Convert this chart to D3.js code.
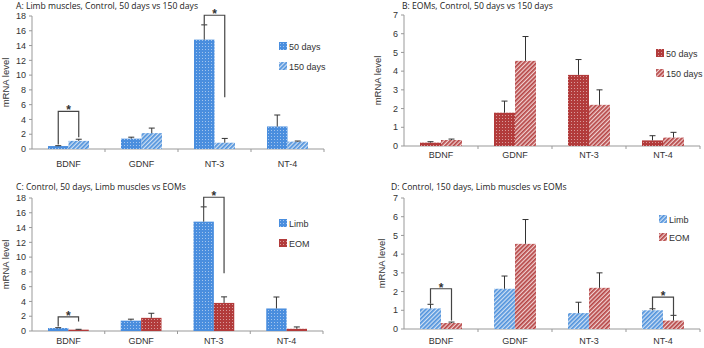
<!DOCTYPE html>
<html>
<head>
<meta charset="utf-8">
<script src="https://cdn.jsdelivr.net/npm/d3@7"></script>
<style>
  body { margin: 0; background: #fff; }
  svg { display: block; }
  .tick-label { font-family: "Liberation Sans", Arial, sans-serif; font-size: 9px; fill: #333; }
  .title { font-family: "Open Sans", "Noto Sans", sans-serif; font-size: 8.6px; fill: #222; }
  .legend { font-family: "Liberation Sans", Arial, sans-serif; font-size: 9px; fill: #333; }
</style>
</head>
<body>
<svg id="chart" width="704" height="348"></svg>
<script>
const genes = ["BDNF", "GDNF", "NT-3", "NT-4"];

// limb muscles
const limb50 = [0.4, 1.4, 14.8, 3.05];
const limb50Err = [0.05, 0.2, 2.0, 1.55];
const limb150 = [1.1, 2.15, 0.85, 1.0];
const limb150Err = [0.22, 0.68, 0.58, 0.08];

// EOMs
const eom50 = [0.18, 1.78, 3.8, 0.3];
const eom50Err = [0.05, 0.62, 0.82, 0.25];
const eom150 = [0.32, 4.55, 2.2, 0.45];
const eom150Err = [0.05, 1.3, 0.8, 0.28];

const ticksLimb = [0, 2, 4, 6, 8, 10, 12, 14, 16, 18];
const ticksEom = [0, 1, 2, 3, 4, 5, 6, 7];

// significance brackets: [gene index, bracket top, left leg foot, right leg foot]
const sigA = [[0, 5.1, 0.6, 1.6], [2, 18.1, 16.8, 7.0]];
const sigC = [[0, 1.9, 0.6, 1.3], [2, 18.1, 16.8, 7.8]];
const sigD = [[0, 2.15, 1.35, 0.45], [3, 1.7, 1.07, 0.72]];

const svg = d3.select("#chart");
const defs = svg.append("defs");

const BLUE = "#4a8ede", RED = "#b23b3b";

function dotPattern(id, color) {
  const p = defs.append("pattern").attr("id", id)
    .attr("patternUnits", "userSpaceOnUse").attr("width", 3).attr("height", 3);
  p.append("rect").attr("width", 3).attr("height", 3).attr("fill", color);
  p.append("circle").attr("cx", 1.5).attr("cy", 1.5).attr("r", 0.5).attr("fill", "#fff").attr("opacity", 0.65);
}
function hatchPattern(id, color, light) {
  const p = defs.append("pattern").attr("id", id)
    .attr("patternUnits", "userSpaceOnUse").attr("width", 3).attr("height", 3)
    .attr("patternTransform", "rotate(45)");
  p.append("rect").attr("width", 3).attr("height", 3).attr("fill", light);
  p.append("rect").attr("width", 1.7).attr("height", 3).attr("fill", color);
}
dotPattern("dotBlue", BLUE);
dotPattern("dotRed", RED);
hatchPattern("hatchBlue", "#4f92dc", "#cfe0f4");
hatchPattern("hatchRed", "#b54444", "#f0d0d0");

function panel(cfg) {
  const g = svg.append("g");
  const y = d3.scaleLinear().domain([0, cfg.ymax]).range([cfg.y0, cfg.ytop]);
  const x = d3.scaleBand().domain(genes).range([cfg.left, cfg.right]);
  const inner = d3.scaleBand().domain([0, 1]).range([16, x.bandwidth() - 16]);

  // title
  g.append("text").attr("class", "title")
    .attr("x", cfg.titleX).attr("y", cfg.titleY).text(cfg.title);

  // y axis
  g.append("line").attr("x1", cfg.left).attr("x2", cfg.left)
    .attr("y1", y(0)).attr("y2", y(cfg.ymax)).attr("stroke", "#999");
  cfg.ticks.forEach(t => {
    g.append("line").attr("x1", cfg.left - 3).attr("x2", cfg.left)
      .attr("y1", y(t)).attr("y2", y(t)).attr("stroke", "#999");
    g.append("text").attr("class", "tick-label")
      .attr("x", cfg.left - 6).attr("y", y(t) + 3.2)
      .attr("text-anchor", "end").text(t);
  });
  g.append("text").attr("class", "tick-label")
    .attr("transform", `translate(${cfg.ylabX},${(y(0) + y(cfg.ymax)) / 2}) rotate(-90)`)
    .attr("text-anchor", "middle").style("font-size", "9.5px").text("mRNA level");

  // x axis
  g.append("line").attr("x1", cfg.left).attr("x2", cfg.right)
    .attr("y1", y(0)).attr("y2", y(0)).attr("stroke", "#999");
  genes.forEach(d => {
    const xe = x(d) + x.bandwidth();
    g.append("line").attr("x1", xe).attr("x2", xe)
      .attr("y1", y(0)).attr("y2", y(0) + 3).attr("stroke", "#999");
    g.append("text").attr("class", "tick-label")
      .attr("x", x(d) + x.bandwidth() / 2).attr("y", y(0) + cfg.xlabDy)
      .attr("text-anchor", "middle").text(d);
  });

  // bars
  cfg.series.forEach((s, si) => {
    genes.forEach((gene, i) => {
      const bx = x(gene) + inner(si);
      g.append("rect")
        .attr("x", bx).attr("y", y(s.values[i]))
        .attr("width", inner.bandwidth()).attr("height", y(0) - y(s.values[i]))
        .attr("fill", `url(#${s.fill})`);
      const cx = bx + inner.bandwidth() / 2;
      const top = y(s.values[i] + s.err[i]);
      g.append("line").attr("x1", cx).attr("x2", cx)
        .attr("y1", y(s.values[i])).attr("y2", top).attr("stroke", "#333");
      g.append("line").attr("x1", cx - 3).attr("x2", cx + 3)
        .attr("y1", top).attr("y2", top).attr("stroke", "#333");
    });
  });

  // significance brackets
  cfg.sig.forEach(([gi, topV, lV, rV]) => {
    const gene = genes[gi];
    const lx = x(gene) + inner(0) + inner.bandwidth() / 2;
    const rx = x(gene) + inner(1) + inner.bandwidth() / 2;
    g.append("path")
      .attr("d", `M${lx},${y(lV)}V${y(topV)}H${rx}V${y(rV)}`)
      .attr("fill", "none").attr("stroke", "#444").attr("stroke-width", 1.2);
    g.append("text").attr("x", (lx + rx) / 2).attr("y", y(topV) + 3)
      .attr("text-anchor", "middle")
      .style("font-family", "Liberation Sans, Arial, sans-serif")
      .style("font-size", "12px").style("font-weight", "bold").attr("fill", "#333")
      .text("*");
  });

  // legend
  cfg.series.forEach((s, si) => {
    const ly = cfg.legY + si * cfg.legGap;
    g.append("rect").attr("x", cfg.legX).attr("y", ly - 4)
      .attr("width", 8).attr("height", 8).attr("fill", `url(#${s.fill})`);
    g.append("text").attr("class", "legend")
      .attr("x", cfg.legX + 10).attr("y", ly + 3.5).text(s.name);
  });
}

panel({
  title: "A: Limb muscles, Control, 50 days vs 150 days", titleX: 16, titleY: 8.5,
  left: 32, right: 324, y0: 149, ytop: 16, ymax: 18, ticks: ticksLimb, ylabX: 9, xlabDy: 18,
  series: [
    { name: "50 days", values: limb50, err: limb50Err, fill: "dotBlue" },
    { name: "150 days", values: limb150, err: limb150Err, fill: "hatchBlue" }
  ],
  sig: sigA, legX: 279, legY: 46, legGap: 20
});

panel({
  title: "B: EOMs, Control, 50 days vs 150 days", titleX: 402, titleY: 8.5,
  left: 404, right: 700, y0: 146, ytop: 15, ymax: 7, ticks: ticksEom, ylabX: 381, xlabDy: 12,
  series: [
    { name: "50 days", values: eom50, err: eom50Err, fill: "dotRed" },
    { name: "150 days", values: eom150, err: eom150Err, fill: "hatchRed" }
  ],
  sig: [], legX: 656, legY: 53, legGap: 20
});

panel({
  title: "C: Control, 50 days, Limb muscles vs EOMs", titleX: 16, titleY: 190.3,
  left: 32, right: 323, y0: 331, ytop: 198, ymax: 18, ticks: ticksLimb, ylabX: 9, xlabDy: 13,
  series: [
    { name: "Limb", values: limb50, err: limb50Err, fill: "dotBlue" },
    { name: "EOM", values: eom50, err: eom50Err, fill: "dotRed" }
  ],
  sig: sigC, legX: 279, legY: 223, legGap: 20
});

panel({
  title: "D:  Control, 150 days, Limb muscles vs EOMs", titleX: 391, titleY: 190.3,
  left: 404, right: 700, y0: 329, ytop: 198, ymax: 7, ticks: ticksEom, ylabX: 385, xlabDy: 15,
  series: [
    { name: "Limb", values: limb150, err: limb150Err, fill: "hatchBlue" },
    { name: "EOM", values: eom150, err: eom150Err, fill: "hatchRed" }
  ],
  sig: sigD, legX: 659, legY: 219, legGap: 18
});
</script>
</body>
</html>
